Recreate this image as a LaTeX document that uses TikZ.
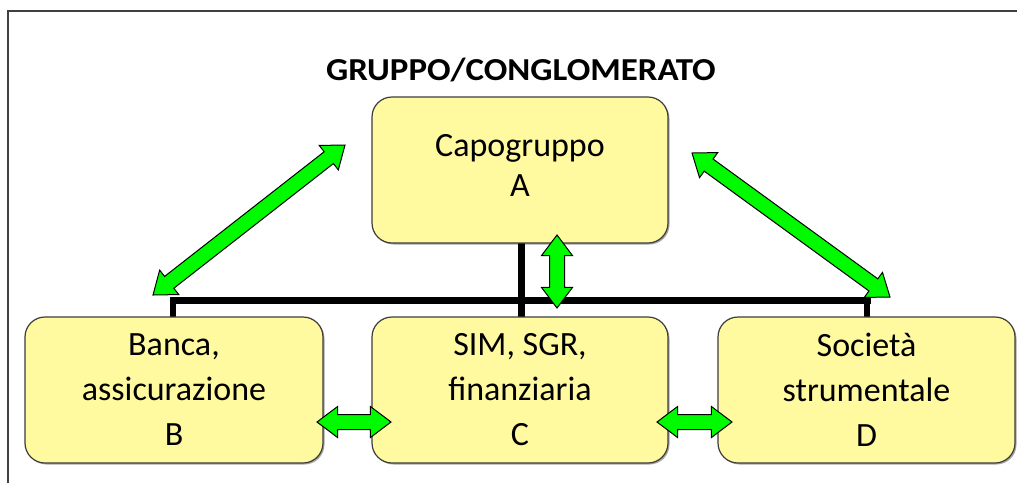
\documentclass[tikz,border=0pt]{standalone}
\usepackage{fontspec}
\setmainfont{Carlito}
\newfontfamily\titlefont[FakeStretch=1.09]{Carlito}
\usetikzlibrary{shapes.arrows,calc,shadows}
\definecolor{boxfill}{RGB}{255,250,160}
\definecolor{boxline}{RGB}{60,60,60}
\definecolor{arrgreen}{RGB}{0,250,0}
\definecolor{framecol}{RGB}{64,64,64}
\tikzset{
 unitbox/.style={draw=boxline, line width=1.2pt, fill=boxfill, rounded corners=20pt,
   minimum width=296pt, minimum height=146pt, align=center, inner sep=0pt,
   drop shadow={shadow xshift=1.5pt, shadow yshift=-1.5pt, opacity=0.35, fill=black}},
 lowtext/.style={font=\fontsize{34}{45}\selectfont},
 toptext/.style={font=\fontsize{34}{40}\selectfont},
 fatarrow/.style={double arrow, fill=arrgreen, draw=black, line width=1pt,
   inner xsep=0pt, inner ysep=7pt, double arrow head extend=8pt, double arrow tip angle=74,
   anchor=center},
 busline/.style={line width=7pt, black},
 stubline/.style={line width=6pt, black},
}
\newcommand\fatlink[2]{\path let \p1=($(#2)-(#1)$), \n1={veclen(\x1,\y1)}, \n2={atan2(\y1,\x1)} in node[fatarrow, minimum height=\n1, rotate=\n2] at ($(#1)!0.5!(#2)$) {};}
\begin{document}
\begin{tikzpicture}[x=1pt,y=-1pt]
\useasboundingbox (0,0) rectangle (1017,483);
\fill[white] (0,0) rectangle (1017,483);
% frame
\draw[framecol, line width=2pt] (8,483) -- (8,11) -- (1017,11);
% title
\node[anchor=base, font=\fontsize{32}{36}\selectfont\titlefont\bfseries, inner sep=0pt] (title) at (521,80) {GRUPPO/CONGLOMERATO};
% connectors (black)
\coordinate (busL) at (173,300);
\coordinate (busR) at (867,300);
\coordinate (Bn) at (173,317);
\coordinate (Dn) at (867,317);
\draw[busline, line cap=rect] (busL) -- (busR);
\draw[stubline] (busL) -- (Bn);
\draw[stubline] (busR) -- (Dn);
\draw[busline] (521,243) -- (521,317);
% boxes
\node[unitbox] (A) at (520,170) {};
\node[toptext, align=center, inner sep=0pt] (Alabel) at (520,165) {Capogruppo\\A};
\node[unitbox, lowtext, minimum width=298pt] (B) at (174,390) {Banca,\\assicurazione\\B};
\node[unitbox, lowtext] (C) at (520,390) {SIM, SGR,\\finanziaria\\C};
\node[unitbox, lowtext, minimum width=297pt] (D) at (866.5,390) {Società\\strumentale\\D};
% green arrows
\coordinate (L1) at (153,295);
\coordinate (L2) at (345,145);
\coordinate (R1) at (692,153);
\coordinate (R2) at (890,297);
\coordinate (V1) at (557,235);
\coordinate (V2) at (557,308);
\coordinate (H1) at (317,422);
\coordinate (H2) at (391,422);
\coordinate (H3) at (657,422);
\coordinate (H4) at (732,422);
\fatlink{L1}{L2}
\fatlink{R1}{R2}
\fatlink{V1}{V2}
\fatlink{H1}{H2}
\fatlink{H3}{H4}
\end{tikzpicture}
\end{document}
